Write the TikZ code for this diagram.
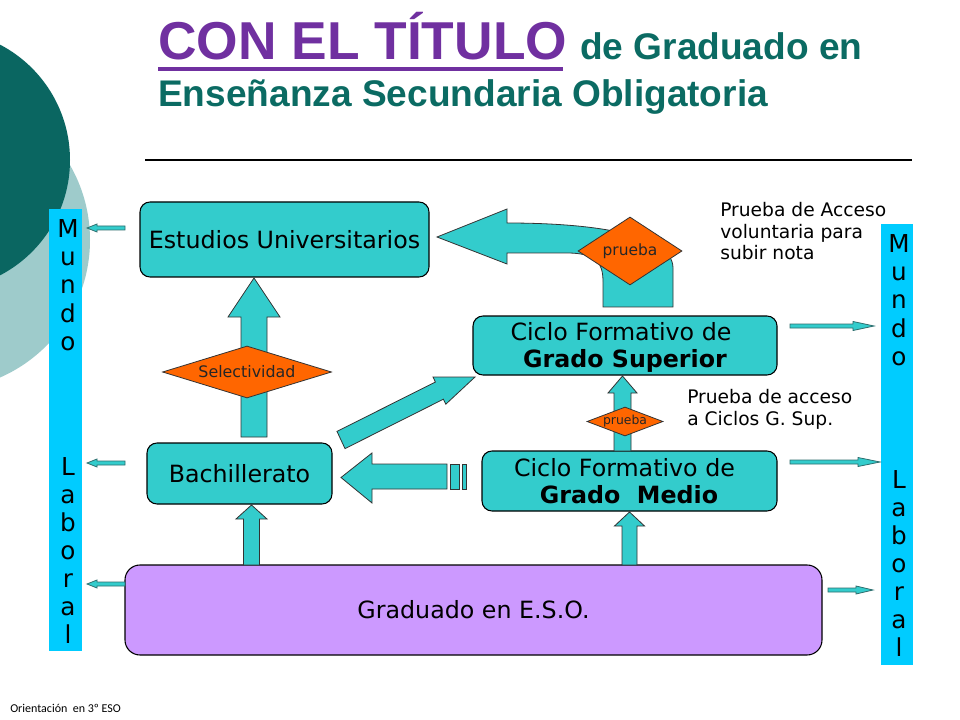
\documentclass[tikz,border=0pt]{standalone}
\usepackage{fontspec}
\setmainfont{DejaVu Sans}
\newfontfamily\titlefont{Liberation Sans}
\newfontfamily\notefont{Carlito}
\usetikzlibrary{shapes.geometric}
\newdimen\px \px=0.75pt
\definecolor{boxteal}{HTML}{33CCCC}
\definecolor{diaorange}{HTML}{FF6600}
\definecolor{esopurple}{HTML}{CC99FF}
\definecolor{barcyan}{HTML}{00CCFF}
\definecolor{titlepurple}{HTML}{7030A0}
\definecolor{titlegreen}{HTML}{0B6B63}
\definecolor{darkcirc}{HTML}{0A6661}
\definecolor{lightcirc}{HTML}{9ECBCB}
\definecolor{thinedge}{HTML}{2E6E6E}
\tikzset{
  tbox/.style={draw=black, line width=0.8pt, fill=boxteal, rounded corners=10\px, inner sep=0pt, font=\fontsize{17.8}{21}\selectfont},
  barrow/.style={draw=black!80, line width=0.6pt, fill=boxteal, line join=miter},
  thinarr/.style={draw=thinedge, line width=0.6pt, fill=boxteal},
  dia/.style={diamond, draw=black!80, line width=0.6pt, fill=diaorange, inner sep=0pt, text=black!85},
  boxtxt/.style={anchor=base, inner sep=0pt, font=\fontsize{17.8}{21}\selectfont},
  notetxt/.style={anchor=base west, inner sep=0pt, font=\fontsize{14}{16}\selectfont},
  barletter/.style={anchor=base, inner sep=0pt, font=\fontsize{18.5}{20}\selectfont}
}
\newcommand{\uparr}[6]{% xc, ybot, ytip, shafthalf, headhalf, headlen
  \draw[barrow] ({#1-#4},#2) -- ({#1-#4},{#3+#6}) -- ({#1-#5},{#3+#6}) -- (#1,#3)
    -- ({#1+#5},{#3+#6}) -- ({#1+#4},{#3+#6}) -- ({#1+#4},#2) -- cycle;}
\newcommand{\hthin}[5]{% tailx, tipx, y, headlen(signed), headhalf
  \draw[thinarr] (#1,{#3-2}) -- ({#2-#4},{#3-2}) -- ({#2-#4},{#3-#5}) -- (#2,#3)
    -- ({#2-#4},{#3+#5}) -- ({#2-#4},{#3+2}) -- (#1,{#3+2}) -- cycle;}
\begin{document}
\begin{tikzpicture}[x=\px, y=-\px]
\useasboundingbox (0,0) rectangle (960,720);
\fill[white] (0,0) rectangle (960,720);
% background circles
\begin{scope}
  \clip (0,0) rectangle (960,720);
  \fill[lightcirc] (-60,240) circle[radius=150];
  \fill[darkcirc] (-60,160) circle[radius=130];
\end{scope}
% title
\node[anchor=base west, inner sep=0pt, text=titlepurple, font=\titlefont\bfseries\fontsize{40}{44}\selectfont] (t1) at (158,60) {CON EL TÍTULO};
\fill[titlepurple] (158,67) rectangle (563,71.5);
\node[anchor=base west, inner sep=0pt, text=titlegreen, font=\titlefont\bfseries\fontsize{27.8}{30}\selectfont] (t2) at (580,60) {de Graduado en};
\node[anchor=base west, inner sep=0pt, text=titlegreen, font=\titlefont\bfseries\fontsize{27.8}{30}\selectfont] (t3) at (158,107) {Enseñanza Secundaria Obligatoria};
\draw[line width=0.8pt] (145,160) -- (912,160);
% side bars
\node[fill=barcyan, minimum width=33\px, minimum height=442\px, inner sep=0pt] (barL) at (65.5,430) {};
\node[fill=barcyan, minimum width=32\px, minimum height=441\px, inner sep=0pt] (barR) at (897,444.5) {};
\foreach \l [count=\i from 0] in {M,u,n,d,o}{
  \node[barletter, name=lm\i] at (68,{238+28*\i}) {\l};
  \node[barletter, name=rm\i] at (899,{253+28*\i}) {\l};}
\foreach \l [count=\i from 0] in {L,a,b,o,r,a,l}{
  \node[barletter, name=ll\i] at (68,{475+28*\i}) {\l};
  \node[barletter, name=rl\i] at (899,{488+28*\i}) {\l};}
% boxes
\node[tbox, minimum width=289\px, minimum height=75\px] (univ) at (284.5,239.5) {Estudios Universitarios};
\node[tbox, minimum width=304\px, minimum height=59\px] (sup) at (625,345.5) {};
\node[boxtxt] (sup1) at (621,340) {Ciclo Formativo de};
\node[boxtxt] (sup2) at (625,367) {\bfseries Grado Superior};
\node[tbox, minimum width=185\px, minimum height=61\px] (bach) at (239.5,473.5) {Bachillerato};
\node[tbox, minimum width=295\px, minimum height=60\px] (med) at (629.5,481) {};
\node[boxtxt] (med1) at (624.5,476) {Ciclo Formativo de};
\node[boxtxt] (med2) at (629,503) {\bfseries Grado\ \ Medio};
\node[tbox, fill=esopurple, rounded corners=15\px, minimum width=697\px, minimum height=90\px] (eso) at (473.5,610) {Graduado en E.S.O.};
% block arrows
\uparr{254}{437}{278}{13}{26}{39}
\uparr{251.5}{565}{505}{8}{15.5}{14}
\uparr{629.5}{565}{512}{7.5}{15}{14}
\uparr{622.5}{451}{376}{8.5}{14.5}{17}
% diagonal arrow Bachillerato -> Grado Superior
\draw[barrow] (337,431.4) -- (435.4,382) -- (433,377) -- (475,377) -- (445.8,404.2) -- (443.4,399.2) -- (345,448.6) -- cycle;
% left arrow Grado Medio -> Bachillerato
\draw[barrow] (447,464) -- (372,464) -- (372,453) -- (341,477.5) -- (372,503) -- (372,489) -- (447,489) -- cycle;
\draw[barrow] (450,464) rectangle (459,489);
\draw[barrow] (462,464) rectangle (466,489);
% curved arrow Grado Superior -> Estudios
\draw[barrow] (603,307) -- (673,307) -- (673,268) .. controls (673,236) and (600,223) .. (507,223)
  -- (507,209) -- (437,237) -- (507,264) -- (507,253) -- (570,253) .. controls (596,254) and (603,262) .. (603,282) -- cycle;
% diamonds
\node[dia, shape aspect=3.25, minimum width=169\px, minimum height=52\px, font=\fontsize{11.9}{13}\selectfont] (sel) at (247,372) {Selectividad};
\node[dia, shape aspect=1.53, minimum width=104\px, minimum height=68\px, font=\fontsize{11.6}{13}\selectfont] (pr1) at (630,251) {prueba};
\node[dia, shape aspect=2.62, minimum width=76\px, minimum height=29\px, font=\fontsize{9.3}{11}\selectfont] (pr2) at (625,421.5) {prueba};
% thin arrows to Mundo Laboral
\hthin{125}{87}{228}{-10}{4}
\hthin{125}{87}{463}{-10}{4}
\hthin{125}{87}{584}{-10}{4}
\hthin{790}{874}{326}{21}{4.5}
\hthin{790}{880}{462}{22}{4.5}
\hthin{828}{873}{590}{17}{4}
% notes
\node[notetxt] (n1) at (720,217) {Prueba de Acceso};
\node[notetxt] (n2) at (720,238.5) {voluntaria para};
\node[notetxt] (n3) at (720,260) {subir nota};
\node[notetxt] (n4) at (687,403) {Prueba de acceso};
\node[notetxt] (n5) at (687,425) {a Ciclos G. Sup.};
\node[anchor=base west, inner sep=0pt, font=\notefont\fontsize{9}{10}\selectfont] (foot) at (10,712) {Orientación\ \ en 3º ESO};
\end{tikzpicture}
\end{document}
